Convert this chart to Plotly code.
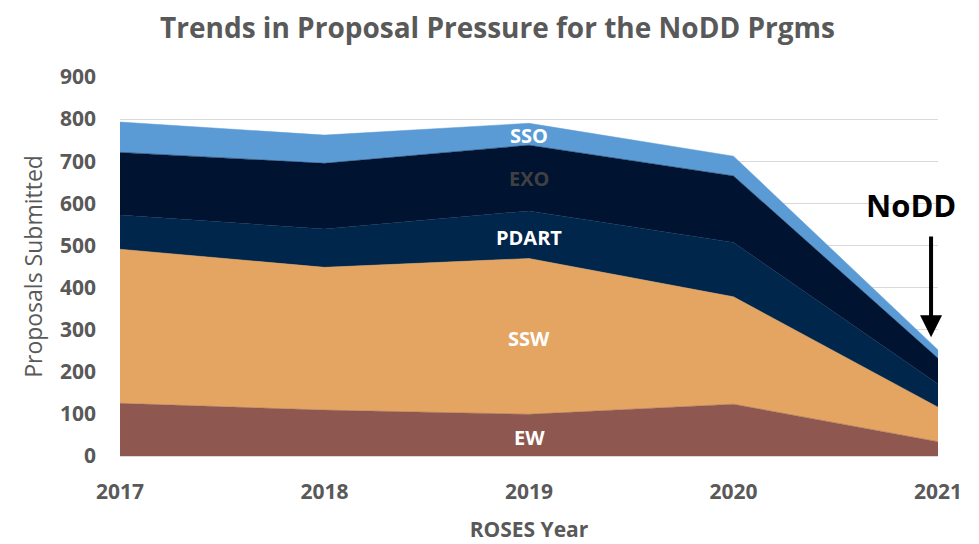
import plotly.graph_objects as go

years = [2017, 2018, 2019, 2020, 2021]
ew = [125, 109, 99, 123, 34]
ssw = [366, 339, 370, 255, 82]
pdart = [81, 91, 113, 129, 55]
exo = [149, 156, 156, 158, 61]
sso = [72, 67, 52, 47, 20]

series = [
    ("EW", ew, "#8E5850"),
    ("SSW", ssw, "#E4A562"),
    ("PDART", pdart, "#00264B"),
    ("EXO", exo, "#001331"),
    ("SSO", sso, "#5B9BD5"),
]

fig = go.Figure()
for name, vals, col in series:
    fig.add_trace(go.Scatter(
        x=years, y=vals, name=name, stackgroup="one", mode="lines",
        line=dict(width=0.5, color=col), fillcolor=col, showlegend=False,
    ))

FONT = "Open Sans"
GREY = "#595959"

labels = [
    ("SSO", 762, "white"),
    ("EXO", 660, "#404040"),
    ("PDART", 520, "white"),
    ("SSW", 280, "white"),
    ("EW", 45, "white"),
]
for txt, yv, col in labels:
    fig.add_annotation(x=2019, y=yv, text=txt, showarrow=False,
                       font=dict(family=FONT, size=20, color=col, weight="bold"))

fig.add_annotation(x=2020.87, y=596, text="NoDD", showarrow=False,
                   font=dict(family=FONT, size=31, color="black", weight="bold"))
fig.add_annotation(x=2020.966, y=282, ax=2020.966, ay=525, axref="x", ayref="y",
                   text="", showarrow=True, arrowhead=2, arrowsize=1.1,
                   arrowwidth=4, arrowcolor="black")

fig.update_layout(
    width=979, height=544,
    margin=dict(l=112, r=49, t=69, b=96),
    paper_bgcolor="white", plot_bgcolor="white",
    title=dict(text="Trends in Proposal Pressure for the NoDD Prgms",
               x=0.5, xanchor="center", y=0.963, yanchor="middle",
               font=dict(family=FONT, size=28, color=GREY, weight="bold")),
    xaxis=dict(range=[2017, 2021], tickvals=years, ticktext=[str(y) for y in years],
               showgrid=False, zeroline=False, showline=True, linecolor="#D9D9D9",
               automargin=False, ticklabelstandoff=17,
               tickfont=dict(family=FONT, size=21, color=GREY, weight="bold"),
               title=dict(text="ROSES Year", standoff=18,
                          font=dict(family=FONT, size=21, color=GREY, weight="bold"))),
    yaxis=dict(range=[0, 900], dtick=100, showgrid=True, gridcolor="#D9D9D9",
               zeroline=False, ticks="", automargin=False, ticklabelstandoff=23,
               tickfont=dict(family=FONT, size=21, color=GREY, weight="bold"),
               title=dict(text="Proposals Submitted", standoff=10,
                          font=dict(family=FONT, size=23, color=GREY))),
)

fig.write_html("out.html")
